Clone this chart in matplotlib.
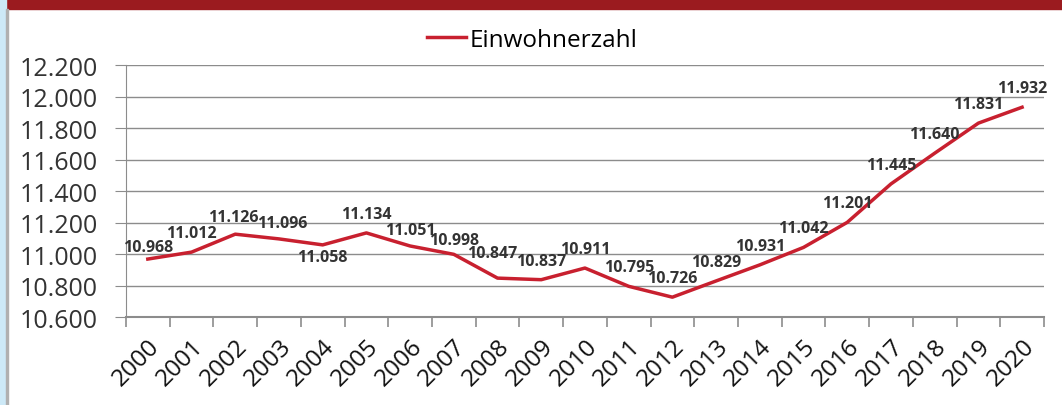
import matplotlib.pyplot as plt
from matplotlib.patches import Rectangle
from matplotlib.ticker import FuncFormatter, MultipleLocator

years = [str(y) for y in range(2000, 2021)]
einwohner = [10968, 11012, 11126, 11096, 11058, 11134, 11051, 10998, 10847, 10837,
             10911, 10795, 10726, 10829, 10931, 11042, 11201, 11445, 11640, 11831, 11932]

plt.rcParams['font.family'] = ['Open Sans', 'DejaVu Sans']

fig = plt.figure(figsize=(10.62, 4.06), dpi=100)
# Rahmen: roter Balken oben, hellblauer Streifen links
fig.patches.append(Rectangle((0, 406 - 10), 1062, 10, transform=None, color='#9b1b1f', zorder=0))
fig.patches.append(Rectangle((0, 0), 6, 406, transform=None, color='#cde9f7', zorder=0))
fig.patches.append(Rectangle((6, 0), 1.5, 396, transform=None, color='#b0b0b0', zorder=0))

ax = fig.add_axes([0.1186, 0.2167, 0.8644, 0.6207])
x = list(range(len(years)))
ax.plot(x, einwohner, color='#c8202f', lw=2.5, label='Einwohnerzahl')

ax.set_xlim(-0.5, len(years) - 0.5)
ax.set_ylim(10600, 12200)
ax.yaxis.set_major_locator(MultipleLocator(200))
ax.yaxis.set_major_formatter(FuncFormatter(lambda v, p: f'{int(v):,}'.replace(',', '.')))
ax.grid(axis='y', color='#8c8c8c', lw=1)
ax.set_axisbelow(True)

ax.set_xticks(x)
ax.set_xticklabels(years, rotation=45, ha='right', va='top', rotation_mode='anchor', fontsize=17.5)
ax.set_xticks([i - 0.5 for i in range(len(years) + 1)], minor=True)
ax.tick_params(axis='x', which='major', length=0, pad=12, labelcolor='#111111')
ax.tick_params(axis='x', which='minor', length=7, color='#8c8c8c', width=1.2)
ax.tick_params(axis='y', length=8, color='#8c8c8c', labelsize=18, labelcolor='#333333', pad=12)

for s in ['top', 'right']:
    ax.spines[s].set_visible(False)
ax.spines['left'].set_color('#8c8c8c')
ax.spines['bottom'].set_color('#8c8c8c')
ax.spines['bottom'].set_linewidth(1.5)

# Datenbeschriftungen (Verschiebung in Pixeln, sonst 19 px ueber dem Punkt)
label_shift = {0: (0, 12), 2: (-2, 17), 3: (3, 16), 4: (0, -12), 6: (0, 16),
               7: (0, 14), 8: (-5, 25)}
for i, v in enumerate(einwohner):
    dx, dy = label_shift.get(i, (0, 19))
    ax.annotate(f'{v:,}'.replace(',', '.'), (i, v), xytext=(dx, dy), textcoords='offset pixels',
                ha='center', va='center', fontsize=11.5, fontweight='bold', color='#333333')

ax.legend(loc='center', bbox_to_anchor=(0.443, 1.10), frameon=False, fontsize=17.5,
          handlelength=1.6, handletextpad=0.15)

fig.savefig('out.png', dpi=100)
